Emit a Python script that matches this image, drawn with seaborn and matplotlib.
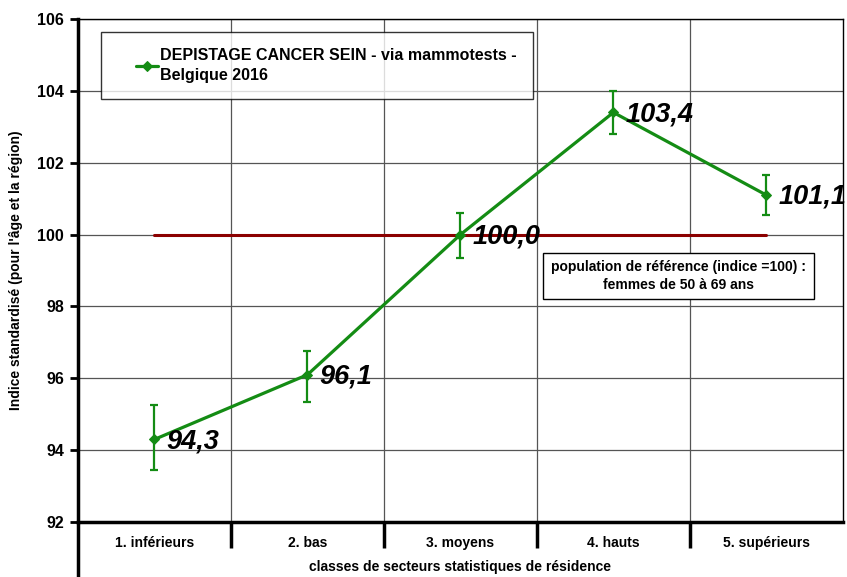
import numpy as np
import pandas as pd
import seaborn as sns
import matplotlib.pyplot as plt
from matplotlib.legend_handler import HandlerLine2D
from matplotlib.lines import Line2D

categories = ["1. inférieurs", "2. bas", "3. moyens", "4. hauts", "5. supérieurs"]
values = [94.3, 96.1, 100.0, 103.4, 101.1]
err_low = [0.85, 0.75, 0.65, 0.6, 0.55]
err_high = [0.95, 0.65, 0.6, 0.6, 0.55]
value_labels = ["94,3", "96,1", "100,0", "103,4", "101,1"]
reference = 100
series_name = "DEPISTAGE CANCER SEIN - via mammotests -\nBelgique 2016"
ref_text = "population de référence (indice =100) :\nfemmes de 50 à 69 ans"

sns.set_theme(style="white")
plt.rcParams['font.family'] = ['Liberation Sans', 'DejaVu Sans']
plt.rcParams['font.weight'] = 'bold'
plt.rcParams['text.color'] = 'black'
plt.rcParams['axes.labelcolor'] = 'black'
plt.rcParams['xtick.color'] = 'black'
plt.rcParams['ytick.color'] = 'black'

green = "#148c14"
df = pd.DataFrame({"pos": np.arange(len(categories)), "val": values})

fig = plt.figure(figsize=(8.47, 5.77), dpi=100)
ax = fig.add_axes([0.0921, 0.0953, 0.903, 0.8717])

# reference line
ax.plot([0, len(categories) - 1], [reference, reference], color="#8b0000", lw=2.2, zorder=2)

sns.lineplot(data=df, x="pos", y="val", ax=ax, color=green, lw=2.3, marker="D",
             markersize=5, markeredgecolor=green, label=series_name, zorder=4)
ax.errorbar(df["pos"], df["val"], yerr=[err_low, err_high], fmt="none", ecolor=green,
            elinewidth=1.6, capsize=3, capthick=1.6, zorder=3)

for i, (v, lab) in enumerate(zip(values, value_labels)):
    ax.text(i + 0.08, v - 0.05, lab, fontsize=19.5, fontstyle="italic", fontweight="bold",
            ha="left", va="center", zorder=5)

ax.set_xlim(-0.5, len(categories) - 0.5)
ax.set_ylim(92, 106)
ax.set_yticks(np.arange(92, 107, 2))
ax.tick_params(axis="y", labelsize=11.5, length=6, width=2, direction="out", left=True, pad=4)

# category separators as long major ticks, labels on minor ticks
ax.set_xticks(np.arange(0.5, len(categories) - 0.5, 1))
ax.set_xticklabels([])
ax.set_xticks(np.arange(len(categories)), minor=True)
ax.set_xticklabels(categories, minor=True, fontsize=10, fontweight="bold")
ax.tick_params(axis="x", which="major", length=19, width=2.5, direction="out", bottom=True, color="black")
ax.tick_params(axis="x", which="minor", length=0, pad=10)

ax.grid(True, which="major", color="#555555", lw=0.9)
ax.set_axisbelow(True)

for s in ["top", "right"]:
    ax.spines[s].set_color("black")
    ax.spines[s].set_linewidth(1)
ax.spines["left"].set_linewidth(2.5)
ax.spines["bottom"].set_linewidth(2.5)
ax.spines["left"].set_color("black")
ax.spines["bottom"].set_color("black")
ax.plot([0, 0], [0, -0.115], transform=ax.transAxes, color="black", lw=2.5, clip_on=False)

ax.set_xlabel("classes de secteurs statistiques de résidence", fontsize=10, fontweight="bold", labelpad=5)
ax.set_ylabel("Indice standardisé (pour l'âge et la région)", fontsize=10, fontweight="bold", labelpad=10)

leg = ax.legend(loc="upper left", bbox_to_anchor=(0.03, 0.975), fontsize=11.5, frameon=True,
                fancybox=False, edgecolor="black", borderpad=1.0, handlelength=2.6,
                handletextpad=0.1, borderaxespad=0,
                handler_map={Line2D: HandlerLine2D(xpad=1.2)})
leg.get_frame().set_linewidth(1)
for t in leg.get_texts():
    t.set_fontweight("bold")
    t.set_linespacing(1.45)

ax.text(3.425, 98.85, ref_text, fontsize=10, fontweight="bold", ha="center", va="center",
        linespacing=1.3,
        bbox=dict(boxstyle="square,pad=0.55", fc="white", ec="black", lw=1), zorder=6)

fig.savefig("out.png", dpi=100)
